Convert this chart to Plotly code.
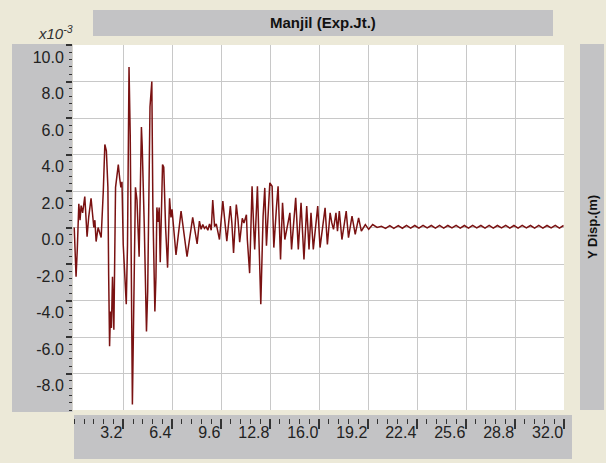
import plotly.graph_objects as go

# Time (s) and Y displacement (x10^-3 m)
time_s = [
    0.00, 0.05, 0.12, 0.20, 0.30, 0.38, 0.45, 0.55, 0.69, 0.84, 0.95, 1.10, 1.28, 1.35, 1.43, 1.56, 1.76,
    1.90, 2.00, 2.10, 2.20, 2.25, 2.31, 2.37, 2.43, 2.50, 2.59, 2.70, 2.88, 2.97, 3.05, 3.12, 3.20, 3.40,
    3.48, 3.58, 3.62, 3.66, 3.80, 4.00, 4.10, 4.24, 4.39, 4.44, 4.58, 4.72, 4.80, 4.95, 5.07, 5.14, 5.27,
    5.34, 5.40, 5.49, 5.55, 5.62, 5.77, 5.85, 5.97, 6.10, 6.23, 6.32, 6.39, 6.65, 6.98, 7.37, 7.74, 8.03,
    8.18, 8.29, 8.40, 8.51, 8.62, 8.73, 8.84, 8.95, 9.05, 9.17, 9.28, 9.38, 9.49, 9.71, 9.82, 9.97, 10.20,
    10.30, 10.41, 10.59, 10.70, 10.81, 10.98, 11.09, 11.25, 11.31, 11.46, 11.62, 11.73, 11.79, 11.97, 12.08,
    12.19, 12.34, 12.45, 12.56, 12.78, 12.93, 13.04, 13.22, 13.32, 13.48, 13.61, 13.76, 13.98, 14.09, 14.20,
    14.47, 14.64, 14.82, 15.01, 15.19, 15.34, 15.47, 15.62, 15.91, 16.06, 16.39, 16.54, 16.72, 16.83, 16.94,
    17.10, 17.20, 17.32, 17.49, 17.77, 17.92, 18.15, 18.36, 18.58, 18.76, 19.02, 19.24, 19.50, 19.79, 20.07,
    20.34, 20.62, 20.88, 21.17, 21.44, 21.71, 21.98, 22.25, 22.52, 22.79, 23.06, 23.33, 23.60, 23.87, 24.14,
    24.41, 24.68, 24.95, 25.22, 25.49, 25.76, 26.03, 26.30, 26.57, 26.84, 27.11, 27.38, 27.65, 27.92, 28.19,
    28.46, 28.73, 29.00, 29.27, 29.54, 29.81, 30.08, 30.35, 30.62, 30.89, 31.16, 31.43, 31.70, 31.97,
]
y_disp = [
    0.0, -1.5, -2.7, -1.2, 1.3, 0.4, 1.2, 0.8, 1.7, -0.5, 0.6, 1.6, 0.0, 0.4, -0.77, 0.0, -0.55,
    2.0, 4.55, 4.2, 2.2, -2.6, -6.5, -4.6, -5.5, -2.7, -5.6, 2.2, 3.45, 2.7, 2.2, 2.5, -0.9, -4.2,
    -1.0, 8.8, 7.5, 5.0, -9.7, 2.2, 1.5, -1.6, 5.5, 4.5, 0.0, -5.7, -3.5, 6.6, 8.0, 1.0, -4.6,
    -2.7, 1.1, 0.3, 1.1, -1.9, 3.45, 3.3, 0.0, -2.2, 1.6, 0.55, 1.0, -1.5, 0.9, -1.6, 0.55, -0.9,
    0.35, -0.1, 0.16, -0.05, 0.05, -0.15, 0.2, -0.15, 1.5, 0.05, 0.2, -0.3, -0.66, 1.45, 0.6, -0.75, 1.17,
    0.25, -1.4, 1.26, 0.44, -0.8, 0.5, 0.25, 0.7, -0.66, -2.5, 2.26, -0.1, -1.2, 2.26, -0.66,
    -4.2, 0.6, 2.17, -1.0, 2.45, 2.26, -1.1, 1.17, 2.26, -1.75, 1.35, -0.66, 0.44, 0.8, -1.2,
    1.63, -1.2, 1.35, -1.75, 1.17, -1.2, 0.8, -1.2, 1.17, -1.1, 1.08, -0.93, 0.8, 0.25, -0.1,
    0.8, -0.2, 0.9, -0.66, 0.9, -0.56, 0.62, -0.38, 0.53, -0.2, 0.16, -0.1, 0.16, 0.0, 0.07,
    -0.05, 0.1, -0.05, 0.1, -0.04, 0.12, -0.03, 0.11, -0.03, 0.12, -0.02, 0.11, -0.03, 0.12, -0.03,
    0.11, -0.02, 0.12, -0.03, 0.11, -0.03, 0.12, -0.02, 0.11, -0.03, 0.12, -0.03, 0.11, -0.02, 0.12,
    -0.03, 0.11, -0.03, 0.12, -0.02, 0.11, -0.03, 0.12, -0.03, 0.11, -0.02, 0.12, -0.03, 0.11,
]

x_tick_vals = [3.2, 6.4, 9.6, 12.8, 16.0, 19.2, 22.4, 25.6, 28.8, 32.0]
x_tick_text = ["3.2", "6.4", "9.6", "12.8", "16.0", "19.2", "22.4", "25.6", "28.8", "32.0"]
y_tick_vals = [10, 8, 6, 4, 2, 0, -2, -4, -6, -8]
y_tick_text = ["10.0", "8.0", "6.0", "4.0", "2.0", "0.0", "-2.0", "-4.0", "-6.0", "-8.0"]

title_text = "Manjil (Exp.Jt.)"
y_label = "Y Disp.(m)"
scale_text = "x10<sup>-3</sup>"

FONT = "Liberation Sans, Arial, sans-serif"
PANEL = "#c3c3c5"
BEIGE = "#ece9d8"
TICK = "#333333"

fig = go.Figure(
    go.Scatter(
        x=time_s, y=y_disp, mode="lines",
        line=dict(color="#7a1212", width=1.5),
        showlegend=False, hoverinfo="skip",
    )
)

# paper coords: x = (px - 73)/491 ; y = (418 - py)/373
def px_x(px):
    return (px - 73) / 491.0

def px_y(py):
    return (418 - py) / 373.0

panels = [
    (93, 553, 10, 36),     # title bar
    (12, 72.5, 44, 412),   # left axis panel
    (74, 572, 415, 459),   # bottom axis panel
    (580, 604, 44, 410),   # right label panel
]
shapes = []
for x0, x1, y0, y1 in panels:
    shapes.append(dict(
        type="rect", xref="paper", yref="paper",
        x0=px_x(x0), x1=px_x(x1), y0=px_y(y1), y1=px_y(y0),
        fillcolor=PANEL, line=dict(width=0), layer="below",
    ))

fig.update_layout(
    width=606, height=463,
    margin=dict(l=73, r=42, t=45, b=45, autoexpand=False),
    paper_bgcolor=BEIGE, plot_bgcolor="white",
    font=dict(family=FONT, color="#222222"),
    shapes=shapes,
    xaxis=dict(
        range=[-0.08, 32.0], domain=[0, 1], anchor="free", position=0,
        tickmode="array", tickvals=x_tick_vals, ticktext=x_tick_text,
        ticks="outside", ticklen=10, tickwidth=1.5, tickcolor=TICK,
        ticklabelposition="outside left",
        tickfont=dict(size=16, color="#222222", family=FONT),
        showgrid=True, gridcolor="#c8c8c8", gridwidth=1,
        zeroline=False, showline=False,
        minor=dict(dtick=0.64, tick0=0, ticks="outside", ticklen=5, tickwidth=1.2,
                   tickcolor=TICK, showgrid=False),
    ),
    yaxis=dict(
        range=[-10, 10], domain=[8 / 373.0, 1],
        tickmode="array", tickvals=y_tick_vals, ticktext=y_tick_text,
        ticks="outside", ticklen=6, tickwidth=1.5, tickcolor=TICK,
        ticklabelposition="outside bottom", ticklabelstandoff=5,
        tickfont=dict(size=16, color="#222222", family=FONT),
        showgrid=True, gridcolor="#c8c8c8", gridwidth=1,
        zeroline=False, showline=False,
        minor=dict(dtick=0.4, tick0=0, ticks="outside", ticklen=3, tickwidth=1.2,
                   tickcolor=TICK, showgrid=False),
    ),
    annotations=[
        dict(text="<b>" + title_text + "</b>", xref="paper", yref="paper",
             x=px_x(323), y=px_y(23), xanchor="center", yanchor="middle", showarrow=False,
             font=dict(size=15, color="#111111", family=FONT)),
        dict(text="<i>" + scale_text + "</i>", xref="paper", yref="paper",
             x=px_x(55), y=px_y(33), xanchor="center", yanchor="middle", showarrow=False,
             font=dict(size=15, color="#333333", family=FONT)),
        dict(text="<b>" + y_label + "</b>", xref="paper", yref="paper",
             x=px_x(592), y=px_y(227), xanchor="center", yanchor="middle",
             showarrow=False, textangle=-90,
             font=dict(size=13, color="#111111", family=FONT)),
    ],
)

fig.write_html("out.html", config={"displayModeBar": False},
               post_script="document.body.style.margin='0';")
